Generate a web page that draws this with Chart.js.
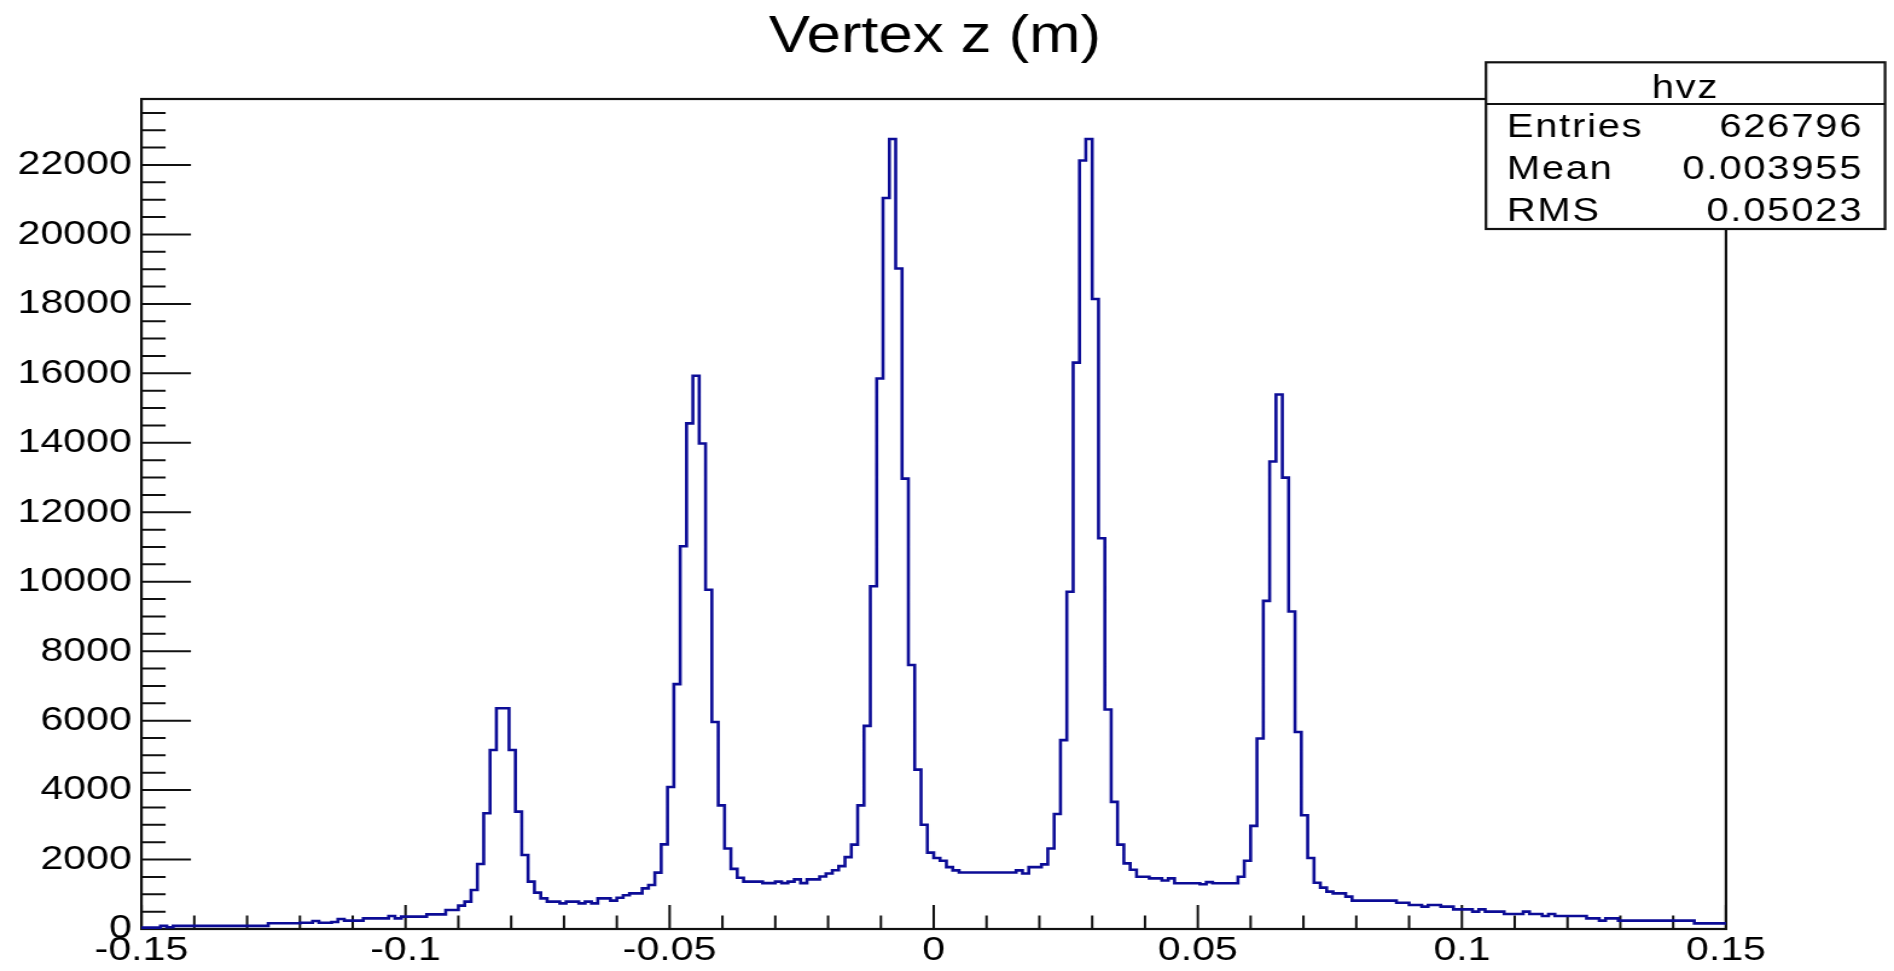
<!DOCTYPE html>
<html lang="en">
<head>
<meta charset="UTF-8">
<title>Vertex z (m)</title>
<script src="https://cdn.jsdelivr.net/npm/chart.js"></script>
<style>
    html, body { margin: 0; padding: 0; background: #fff; overflow: hidden; }
    #wrap { width: 1894px; height: 971px; overflow: hidden; }
    /* the ROOT canvas in the reference is stretched sideways, so is this one */
    #hvz { transform: scaleX(1.2079); transform-origin: 0 0; }
</style>
</head>
<body>
<div id="wrap"><canvas id="hvz" width="1568" height="971"></canvas></div>
<script>
// histogram hvz, 250 bins between -0.15 and 0.15 m
const xMin = -0.15;
const xMax = 0.15;
const binWidth = 0.0012;
const yMax = 23900;

const counts = [
    40, 40, 40, 90, 50, 90, 90, 90, 90, 90,
    90, 90, 90, 90, 90, 90, 90, 90, 90, 90,
    164, 164, 164, 164, 164, 182, 182, 230, 182, 182,
    200, 288, 240, 240, 240, 307, 307, 307, 307, 374,
    307, 355, 355, 355, 355, 422, 422, 422, 547, 547,
    672, 787, 1123, 1872, 3331, 5155, 6355, 6355, 5155, 3379,
    2131, 1363, 1046, 883, 787, 787, 739, 787, 787, 739,
    787, 739, 883, 883, 816, 902, 970, 1027, 1027, 1171,
    1267, 1622, 2438, 4090, 7050, 11020, 14560, 15930, 13980, 9770,
    5960, 3560, 2320, 1730, 1475, 1365, 1365, 1365, 1320, 1320,
    1365, 1320, 1365, 1430, 1320, 1430, 1430, 1510, 1600, 1690,
    1810, 2070, 2430, 3560, 5850, 9870, 15850, 21050, 22750, 19020,
    12970, 7600, 4590, 3000, 2200, 2045, 1967, 1783, 1688, 1627,
    1627, 1627, 1627, 1627, 1627, 1627, 1627, 1627, 1688, 1600,
    1783, 1783, 1860, 2320, 3310, 5440, 9710, 16310, 22130, 22750,
    18140, 11250, 6320, 3660, 2430, 1890, 1705, 1503, 1503, 1457,
    1457, 1397, 1457, 1319, 1319, 1319, 1319, 1290, 1350, 1319,
    1319, 1319, 1319, 1503, 1967, 2969, 5484, 9449, 13461, 15391,
    12997, 9141, 5671, 3277, 2045, 1330, 1190, 1075, 1027, 1027,
    931, 816, 816, 816, 816, 816, 816, 816, 758, 758,
    691, 691, 643, 691, 691, 643, 643, 566, 566, 566,
    499, 566, 499, 499, 499, 432, 432, 432, 499, 432,
    432, 374, 432, 374, 374, 374, 374, 374, 307, 307,
    240, 307, 307, 240, 240, 240, 240, 240, 240, 240,
    240, 240, 240, 240, 240, 163, 163, 163, 163, 163
];

const xTickValues = [-0.15, -0.1, -0.05, 0, 0.05, 0.1, 0.15];
const yTickValues = [0, 2000, 4000, 6000, 8000, 10000, 12000, 14000, 16000, 18000, 20000, 22000];

const statNames = ['Entries', 'Mean', 'RMS'];
const statValues = ['626796', '0.003955', '0.05023'];
const histName = 'hvz';
const titleText = 'Vertex z (m)';

// step outline: one point per low bin edge, plus the last upper edge
const points = counts.map((c, i) => ({ x: xMin + i * binWidth, y: c }));
points.push({ x: xMax, y: counts[counts.length - 1] });

const FONT = '"Liberation Sans", Arial, Helvetica, sans-serif';
Chart.defaults.font.family = FONT;
Chart.defaults.color = '#000';

// ROOT style frame, inward ticks, stats box and title
const rootFrame = {
    id: 'rootFrame',
    beforeDatasetsDraw(chart) {
        const { ctx, chartArea: a, scales: { x, y } } = chart;
        ctx.save();
        ctx.strokeStyle = '#111';
        ctx.lineWidth = 2;
        ctx.beginPath();
        for (let v = 0; v <= yMax; v += 500) {
            const py = y.getPixelForValue(v);
            const len = v % 2000 === 0 ? 41 : 20;
            ctx.moveTo(a.left, py);
            ctx.lineTo(a.left + len, py);
        }
        for (let k = -15; k <= 15; k++) {
            const px = x.getPixelForValue(k / 100);
            const len = k % 5 === 0 ? 24 : 13.5;
            ctx.moveTo(px, a.bottom);
            ctx.lineTo(px, a.bottom - len);
        }
        ctx.stroke();
        ctx.lineWidth = 2.2;
        ctx.strokeRect(a.left, a.top, a.right - a.left, a.bottom - a.top);
        ctx.restore();
    },
    afterDraw(chart) {
        const ctx = chart.ctx;
        ctx.save();

        // title
        ctx.fillStyle = '#000';
        ctx.font = '51px ' + FONT;
        ctx.textAlign = 'center';
        ctx.textBaseline = 'alphabetic';
        ctx.fillText(titleText, 774, 52);

        // stats box
        const bx = 1230.2, by = 62.3, bw = 330.4, bh = 166.7;
        ctx.fillStyle = '#fff';
        ctx.fillRect(bx, by, bw, bh);
        ctx.strokeStyle = '#111';
        ctx.lineWidth = 2.2;
        ctx.strokeRect(bx, by, bw, bh);
        ctx.beginPath();
        ctx.moveTo(bx, 104);
        ctx.lineTo(bx + bw, 104);
        ctx.stroke();

        ctx.fillStyle = '#000';
        ctx.font = '33px ' + FONT;
        if ('letterSpacing' in ctx) ctx.letterSpacing = '1.5px';
        ctx.textAlign = 'center';
        ctx.fillText(histName, bx + bw / 2, 98.3);
        const rows = [137.3, 179, 220.7];
        statNames.forEach((name, i) => {
            ctx.textAlign = 'left';
            ctx.fillText(name, 1247.4, rows[i]);
            ctx.textAlign = 'right';
            ctx.fillText(statValues[i], 1542.5, rows[i]);
        });
        ctx.restore();
    }
};

new Chart(document.getElementById('hvz'), {
    type: 'line',
    data: {
        datasets: [{
            label: histName,
            data: points,
            stepped: 'before',
            borderColor: 'rgb(12, 12, 150)',
            borderWidth: 2.6,
            pointRadius: 0,
            fill: false,
            tension: 0
        }]
    },
    options: {
        responsive: false,
        animation: false,
        events: [],
        devicePixelRatio: 1,
        layout: { padding: { top: 99, right: 1568 - 1428.9, left: 0, bottom: 0 } },
        plugins: {
            legend: { display: false },
            tooltip: { enabled: false },
            title: { display: false }
        },
        scales: {
            x: {
                type: 'linear',
                min: xMin,
                max: xMax,
                afterBuildTicks: (scale) => { scale.ticks = xTickValues.map(v => ({ value: v })); },
                afterFit: (scale) => { scale.height = 42; },
                grid: { display: false, drawTicks: false },
                border: { display: false },
                ticks: {
                    autoSkip: false,
                    maxRotation: 0,
                    minRotation: 0,
                    padding: 1,
                    font: { size: 34 },
                    callback: (v) => String(+v.toFixed(2))
                }
            },
            y: {
                type: 'linear',
                min: 0,
                max: yMax,
                afterBuildTicks: (scale) => { scale.ticks = yTickValues.map(v => ({ value: v })); },
                afterFit: (scale) => { scale.width = 117.1; },
                grid: { display: false, drawTicks: false },
                border: { display: false },
                ticks: {
                    padding: 8,
                    font: { size: 34 },
                    callback: (v) => String(v)
                }
            }
        }
    },
    plugins: [rootFrame]
});
</script>
</body>
</html>
